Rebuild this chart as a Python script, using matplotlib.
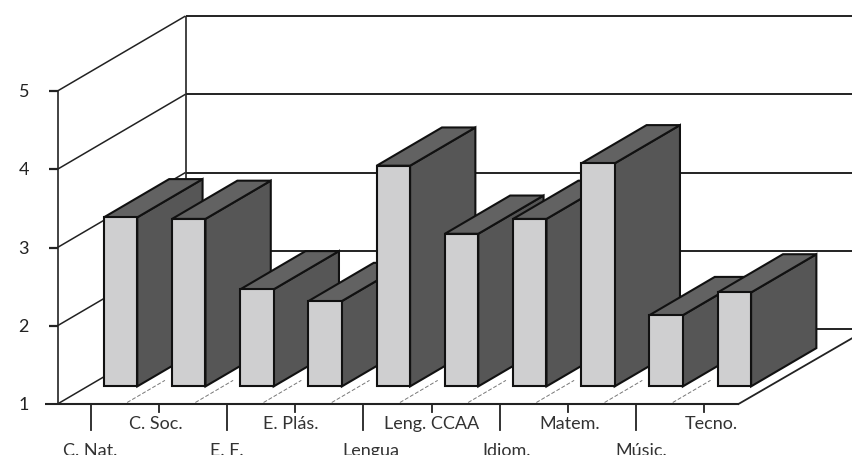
import matplotlib
matplotlib.use("Agg")
import matplotlib.pyplot as plt

plt.rcParams["font.family"] = ["Lato", "DejaVu Sans"]

categories = ["C. Nat.", "C. Soc.", "E. F.", "E. Plás.", "Lengua",
              "Leng. CCAA", "Idiom.", "Matem.", "Músic.", "Tecno."]
values = [3.16, 3.14, 2.24, 2.09, 3.82, 2.95, 3.14, 3.85, 1.91, 2.20]
y_ticks = [1, 2, 3, 4, 5]
label_nudge = [0, -3, 0, -4, 8, 0, 7, 2, 5, 7]

# oblique projection: how far one unit of depth moves a point
DEPTH_X = 128 / 68.2
DEPTH_Y = 75 / 78.25
BAR_WIDTH = 0.49
BAR_SHIFT = -0.5 * BAR_WIDTH
D_FRONT = 0.235
D_BACK = 0.745

FRONT = "#cfcfd0"
SIDE = "#565656"
TOP = "#626262"


def project(pos, val, depth=0.0):
    return pos + depth * DEPTH_X, val + depth * DEPTH_Y


def face(ax, points, color, z):
    xs, ys = zip(*[project(*p) for p in points])
    ax.fill(xs, ys, facecolor=color, edgecolor="#111111", lw=1.5,
            joinstyle="miter", zorder=z)


def line(ax, p0, p1, lw=1.2, color="#222222", z=1, **kw):
    x0, y0 = project(*p0)
    x1, y1 = project(*p1)
    ax.plot([x0, x1], [y0, y1], color=color, lw=lw, zorder=z,
            solid_capstyle="butt", **kw)


fig = plt.figure(figsize=(8.52, 4.56), dpi=100)
ax = fig.add_axes([0, 0, 1, 1])
ax.set_xlim(-90.5 / 68.2, (852 - 90.5) / 68.2)
ax.set_ylim(1 - 51 / 78.25, 1 + 405 / 78.25)
ax.axis("off")

left = -33 / 68.2  # the y axis, left of the first category
end = 14

# walls
for v in y_ticks:
    line(ax, (left, v, 0), (left, v, 1), lw=1.1)
    line(ax, (left, v, 1), (end, v, 1), lw=1.4)
    if v > 1:
        line(ax, (left - 9 / 68.2, v, 0), (left, v, 0), lw=1.6)
line(ax, (left, 1, 0), (left, 5, 0), lw=1.2)
line(ax, (left, 1, 1), (left, 5, 1), lw=1.2)

# floor
last = 648 / 68.2
line(ax, (left - 13 / 68.2, 1, 0), (last, 1, 0), lw=1.5)
x0, y0 = project(last, 1, 0)
ax.plot([x0, x0 + 114 / 68.2], [y0, y0 + 66 / 78.25], color="#222222", lw=1.3, zorder=1)

# dashed floor guides between the bars
for i in range(len(categories) - 1):
    line(ax, (i + 0.5, 1, 0.02), (i + 0.5, 1, D_FRONT + 0.08), lw=0.7,
         color="#777777", ls=(0, (4, 2)))

# ticks and labels, alternating long/short
for i, name in enumerate(categories):
    long_tick = i % 2 == 0
    ax.plot([i, i], [1, 1 - (26 if long_tick else 8) / 78.25],
            color="#222222", lw=1.3, zorder=1)
    ax.text(i + label_nudge[i] / 68.2, 1 - (46 if long_tick else 19) / 78.25, name,
            ha="center", va="center", fontsize=13, color="#333333")

for v in y_ticks:
    ax.text(left - 39 / 68.2, v, str(v), ha="left", va="center", fontsize=13,
            color="#222222")

# bars, left to right so each one covers the side of the previous one
for i, v in enumerate(values):
    x0 = i + BAR_SHIFT
    x1 = x0 + BAR_WIDTH
    z = 3 + i
    face(ax, [(x1, 1, D_FRONT), (x1, 1, D_BACK), (x1, v, D_BACK), (x1, v, D_FRONT)], SIDE, z)
    face(ax, [(x0, v, D_FRONT), (x1, v, D_FRONT), (x1, v, D_BACK), (x0, v, D_BACK)], TOP, z)
    face(ax, [(x0, 1, D_FRONT), (x1, 1, D_FRONT), (x1, v, D_FRONT), (x0, v, D_FRONT)], FRONT, z)

fig.savefig("out.png", dpi=100)
